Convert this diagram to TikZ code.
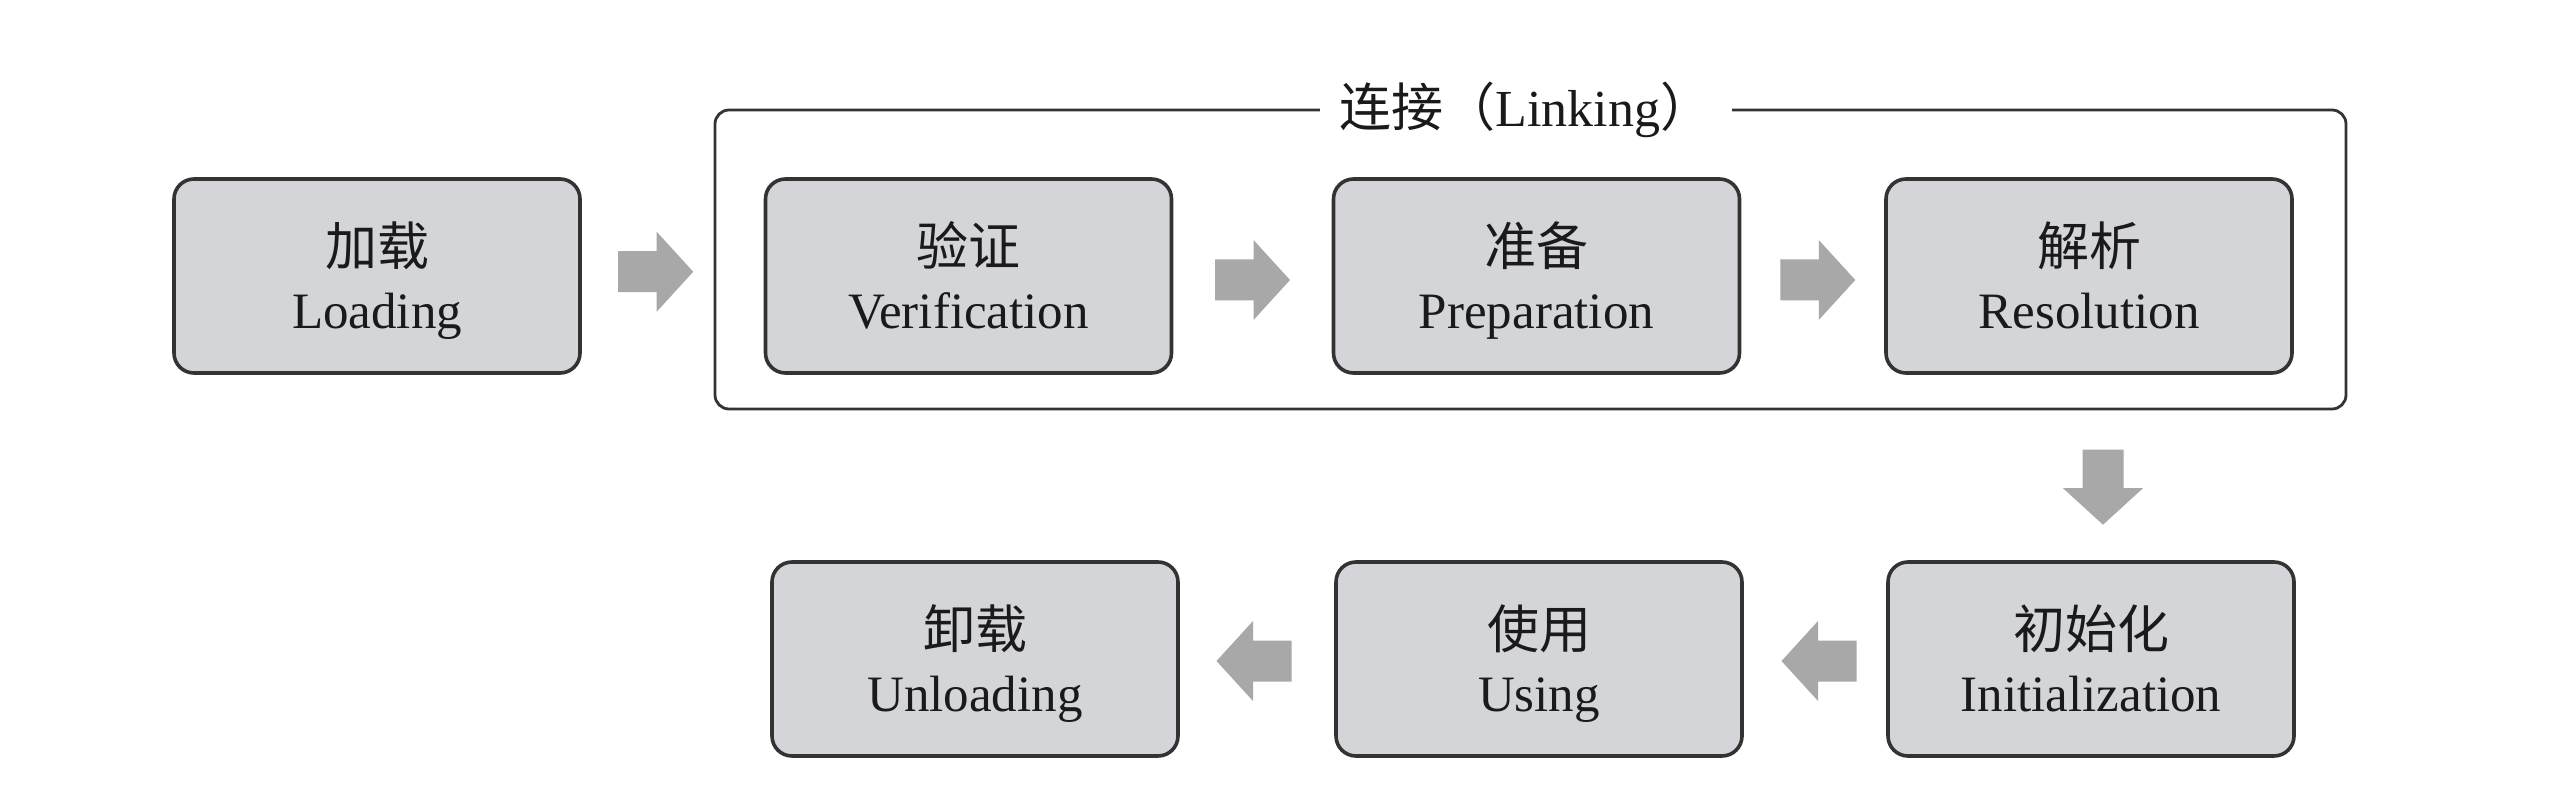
\documentclass[tikz,border=0pt]{standalone}
\usepackage{fontspec}
\setmainfont{Liberation Serif}
\newfontfamily\cjk{Noto Sans CJK SC}
\usetikzlibrary{calc}
\definecolor{boxfill}{HTML}{D3D5D9}
\definecolor{boxline}{HTML}{333333}
\definecolor{arrowgray}{HTML}{A8A8A8}
\definecolor{txt}{HTML}{1A1A1A}
\newcommand{\stagetext}[2]{\rule{0pt}{13pt}\smash{\fontsize{13}{15.75}\cjk #1}\\%
  \rule[-2.5pt]{0pt}{2.5pt}\smash{#2}}
\begin{document}
\begin{tikzpicture}[x=0.25pt,y=-0.25pt,
  stage/.style={draw=boxline, fill=boxfill, line width=0.9pt, rounded corners=5pt,
    minimum width=101.5pt, minimum height=48.5pt, align=center, inner sep=0pt,
    text=txt, font=\fontsize{12.75}{15.75}\selectfont},
  group/.style={draw=boxline, line width=0.7pt, rounded corners=3.5pt,
    minimum width=407.75pt, minimum height=74.75pt, inner sep=0pt},
  grouplabel/.style={fill=white, inner xsep=5pt, inner ysep=1pt, text=txt,
    font=\fontsize{13}{15}\selectfont},
  blockarrow/.pic={\fill[arrowgray] (-37.5,-20.5) -- (1,-20.5) -- (1,-40) -- (37.5,0)
    -- (1,40) -- (1,20.5) -- (-37.5,20.5) -- cycle;}
]
\useasboundingbox (0,0) rectangle (2572,802);

% linking group
\node[group] (linking) at (1530.5,259.5) {};
\node[grouplabel] (linklabel) at (1526,110) {{\cjk 连接（}Linking{\cjk ）}};

% stages
\node[stage] (load)   at (377,276)    {\stagetext{加载}{Loading}};
\node[stage] (verif)  at (968.5,276)  {\stagetext{验证}{Verification}};
\node[stage] (prep)   at (1536.5,276) {\stagetext{准备}{Preparation}};
\node[stage] (resol)  at (2089,276)   {\stagetext{解析}{Resolution}};
\node[stage] (init)   at (2091,659)   {\stagetext{初始化}{Initialization}};
\node[stage] (using)  at (1539,659)   {\stagetext{使用}{Using}};
\node[stage] (unload) at (975,659)    {\stagetext{卸载}{Unloading}};

% block arrows
\pic at ($(load.east)!0.5!(linking.west)+(8,4)$) {blockarrow};
\pic at ($(verif.east)!0.5!(prep.west)+(0,4)$) {blockarrow};
\pic at ($(prep.east)!0.5!(resol.west)+(5,4)$) {blockarrow};
\pic[rotate=-90] at ($(init.north)+(12,-73)$) {blockarrow};
\pic[rotate=180] at ($(init.west)!0.5!(using.east)+(4,2)$) {blockarrow};
\pic[rotate=180] at ($(using.west)!0.5!(unload.east)+(-3,2)$) {blockarrow};
\end{tikzpicture}
\end{document}
